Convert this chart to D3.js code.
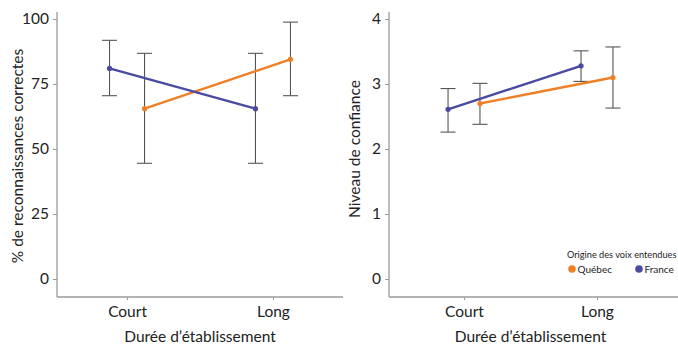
<!DOCTYPE html>
<html><head><meta charset="utf-8">
<script src="https://cdn.jsdelivr.net/npm/d3@7"></script>
<style>
body{margin:0;background:#fff;}
text{font-family:Lato,"Open Sans",sans-serif;fill:#222;}
</style></head>
<body>
<svg id="c" width="678" height="345"></svg>
<script>
const categories = ["Court","Long"];
const seriesNames = ["Québec","France"];
const seriesColors = ["#EF7F24","#4A4AA0"];
const seriesDodge = [1,-1];

// Panel 1: % de reconnaissances correctes
const accMean = { "Québec":[65.5,84.5], "France":[81,65.5] };
const accLow  = { "Québec":[44.5,70.5], "France":[70.5,44.5] };
const accHigh = { "Québec":[86.8,98.8], "France":[91.8,86.8] };
const accTicks = [0,25,50,75,100];

// Panel 2: Niveau de confiance
const confMean = { "Québec":[2.70,3.10], "France":[2.61,3.28] };
const confLow  = { "Québec":[2.38,2.63], "France":[2.26,3.04] };
const confHigh = { "Québec":[3.01,3.57], "France":[2.93,3.51] };
const confTicks = [0,1,2,3,4];

const svg = d3.select("#c");
const axisColor = "#9a9a9a";
const FS = 15.5;

function panel(opts){
  const g = svg.append("g");
  const x = d3.scalePoint().domain(categories).range(opts.xr).padding(opts.pad);
  const y = d3.scaleLinear().domain(opts.ydom).range([279,19]);
  const step = x.step();
  const dodge = 0.12*step;

  // y axis
  const ya = g.append("g").attr("transform",`translate(${opts.xr[0]},0)`)
    .call(d3.axisLeft(y).tickValues(opts.ticks).tickFormat(d3.format("d")).tickSize(4).tickPadding(4).tickSizeOuter(0));
  ya.select(".domain").attr("d",`M0,12V297`).attr("stroke",axisColor).attr("stroke-width",1.3);
  ya.selectAll(".tick line").attr("stroke",axisColor);
  ya.selectAll(".tick text").attr("font-size",FS).style("font-family","Lato,'Open Sans',sans-serif").attr("fill","#222");

  // x axis
  const xa = g.append("g").attr("transform",`translate(0,297)`)
    .call(d3.axisBottom(x).tickSize(3).tickPadding(6).tickSizeOuter(0));
  xa.select(".domain").attr("d",`M${opts.xr[0]},0H${opts.xend}`).attr("stroke",axisColor).attr("stroke-width",1.3);
  xa.selectAll(".tick line").attr("stroke",axisColor);
  xa.selectAll(".tick text").attr("font-size",FS).style("font-family","Lato,'Open Sans',sans-serif").attr("fill","#222");

  // axis titles
  g.append("text").attr("x",(x("Court")+x("Long"))/2).attr("y",342)
    .attr("text-anchor","middle").attr("font-size",FS).text("Durée d’établissement");
  g.append("text").attr("transform",`translate(${opts.ylx},${opts.yly}) rotate(-90)`)
    .attr("text-anchor","middle").attr("font-size",FS).text(opts.ylab);

  // error bars
  seriesNames.forEach((s,si)=>{
    categories.forEach((c,ci)=>{
      const cx = x(c)+seriesDodge[si]*dodge;
      const y1 = y(opts.low[s][ci]), y2 = y(opts.high[s][ci]);
      g.append("line").attr("x1",cx).attr("x2",cx).attr("y1",y1).attr("y2",y2)
        .attr("stroke","#555").attr("stroke-width",1.1);
      [y1,y2].forEach(yy=>g.append("line").attr("x1",cx-7.5).attr("x2",cx+7.5)
        .attr("y1",yy).attr("y2",yy).attr("stroke","#555").attr("stroke-width",1.1));
    });
  });
  // lines and points
  const order = ["Québec","France"];
  order.forEach(s=>{
    const si = seriesNames.indexOf(s);
    const pts = categories.map((c,ci)=>[x(c)+seriesDodge[si]*dodge, y(opts.mean[s][ci])]);
    g.append("path").attr("d",d3.line()(pts)).attr("fill","none")
      .attr("stroke",seriesColors[si]).attr("stroke-width",2.4);
    pts.forEach(p=>g.append("circle").attr("cx",p[0]).attr("cy",p[1]).attr("r",2.6)
      .attr("fill",seriesColors[si]));
  });
  return g;
}

panel({xr:[57,343], xend:343, pad:0.48, ydom:[0,100], ticks:accTicks,
  mean:accMean, low:accLow, high:accHigh, ylab:"% de reconnaissances correctes", ylx:23, yly:156});
panel({xr:[389,672], xend:678, pad:0.564, ydom:[0,4], ticks:confTicks,
  mean:confMean, low:confLow, high:confHigh, ylab:"Niveau de confiance", ylx:360, yly:149});

// legend
const lg = svg.append("g");
lg.append("text").attr("x",567).attr("y",258).attr("font-size",9.2).text("Origine des voix entendues");
const legX = [572,639];
seriesNames.forEach((s,i)=>{
  lg.append("circle").attr("cx",legX[i]).attr("cy",269).attr("r",3.8).attr("fill",seriesColors[i]);
  lg.append("text").attr("x",legX[i]+5.5).attr("y",272.5).attr("font-size",10).text(s);
});
</script>
</body></html>
